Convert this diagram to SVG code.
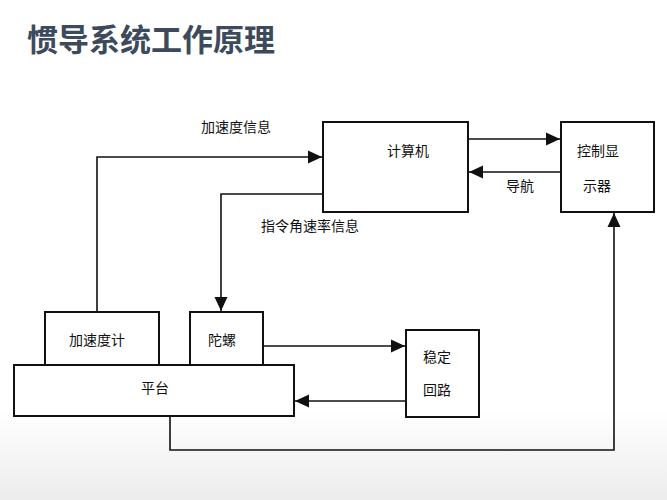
<svg xmlns="http://www.w3.org/2000/svg" width="667" height="500" viewBox="0 0 667 500">
<style>
.b{fill:#fff;stroke:#111;stroke-width:2}
.l{fill:none;stroke:#111;stroke-width:1.6}
.t{font-family:"Noto Sans CJK SC",sans-serif;font-size:14px;fill:#111;text-anchor:middle}
</style>
<defs><marker id="a" markerWidth="14" markerHeight="14" refX="14" refY="7" orient="auto" markerUnits="userSpaceOnUse" viewBox="0 0 14 14"><path d="M0,0.5L14,7L0,13.5z" fill="#111"/></marker>
<linearGradient id="bg" x1="0" y1="0" x2="0" y2="1"><stop offset="0.82" stop-color="#fff"/><stop offset="1" stop-color="#ececec"/></linearGradient></defs>
<rect width="667" height="500" fill="url(#bg)"/>
<text x="27" y="51" font-family="Noto Sans CJK SC,sans-serif" font-size="31" font-weight="bold" fill="#3c4a5c">惯导系统工作原理</text>
<g id="connectors">
<path class="l" d="M97,312V157H322" marker-end="url(#a)"/>
<path class="l" d="M323,194H221V311" marker-end="url(#a)"/>
<path class="l" d="M468,139H560" marker-end="url(#a)"/>
<path class="l" d="M561,172H469" marker-end="url(#a)"/>
<path class="l" d="M263,346H405" marker-end="url(#a)"/>
<path class="l" d="M406,401H295" marker-end="url(#a)"/>
<path class="l" d="M170,416V450H614V213" marker-end="url(#a)"/>
</g>
<g id="computer"><rect class="b" x="323" y="122" width="145" height="90"/><text class="t" x="408" y="156">计算机</text></g>
<g id="display"><rect class="b" x="561" y="122" width="93" height="90"/><text class="t" x="598" y="156">控制显</text><text class="t" x="597" y="191">示器</text></g>
<g id="platform"><rect class="b" x="14" y="365" width="280" height="51"/><text class="t" x="155" y="393">平台</text></g>
<g id="accel"><rect class="b" x="45" y="312" width="114" height="53"/><text class="t" x="97" y="345">加速度计</text></g>
<g id="gyro"><rect class="b" x="190" y="312" width="73" height="53"/><text class="t" x="222" y="345">陀螺</text></g>
<g id="loop"><rect class="b" x="406" y="330" width="73" height="87"/><text class="t" x="437" y="362">稳定</text><text class="t" x="437" y="395">回路</text></g>
<text class="t" x="236" y="132">加速度信息</text>
<text class="t" x="310" y="231">指令角速率信息</text>
<text class="t" x="520" y="191">导航</text>
</svg>
